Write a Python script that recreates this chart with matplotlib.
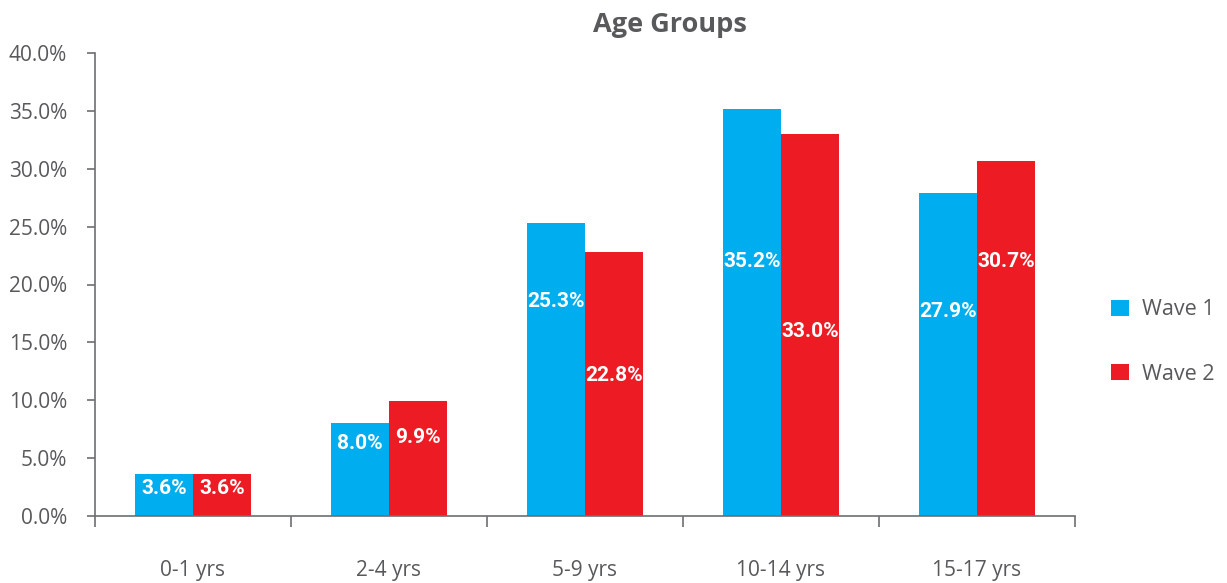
import numpy as np
import matplotlib.pyplot as plt
from matplotlib.ticker import FuncFormatter

# age groups and share of children per wave (in %)
groups = ['0-1 yrs', '2-4 yrs', '5-9 yrs', '10-14 yrs', '15-17 yrs']
wave1 = [3.6, 8.0, 25.3, 35.2, 27.9]
wave2 = [3.6, 9.9, 22.8, 33.0, 30.7]

# height where each value label sits
label_y1 = [2.4, 6.3, 18.5, 22.0, 17.7]
label_y2 = [2.4, 6.8, 12.1, 15.9, 22.0]

blauw = '#00aeef'
rood = '#ed1c24'
grijs = '#58595b'
lijn = '#6d6e71'

fig = plt.figure(figsize=(12.27, 5.83), dpi=100)
ax = fig.add_axes([95/1227, 1-516/583, (1075-95)/1227, (516-53)/583])

x = np.arange(len(groups))
w = 0.295
ax.bar(x - w, wave1, w, align='edge', color=blauw, label='Wave 1')
ax.bar(x, wave2, w, align='edge', color=rood, label='Wave 2')

# waarden in de balken
for i in range(len(groups)):
    ax.text(x[i] - w/2, label_y1[i], f'{wave1[i]:.1f}%', ha='center', va='center',
            color='white', fontsize=15, fontweight='bold', family='Roboto')
    ax.text(x[i] + w/2, label_y2[i], f'{wave2[i]:.1f}%', ha='center', va='center',
            color='white', fontsize=15, fontweight='bold', family='Roboto')

ax.set_ylim(0, 40)
ax.set_xlim(-0.5, len(groups) - 0.5)
ax.set_yticks(np.arange(0, 41, 5))
ax.yaxis.set_major_formatter(FuncFormatter(lambda v, p: f'{v:.1f}%'))

# streepjes tussen de groepen, labels in het midden
ax.set_xticks(np.arange(-0.5, len(groups), 1))
ax.set_xticklabels([])
ax.set_xticks(x, minor=True)
ax.set_xticklabels(groups, minor=True)
ax.tick_params(axis='x', which='major', length=8, width=1.2, color=lijn)
ax.tick_params(axis='x', which='minor', length=0, pad=32, labelsize=15, labelcolor=grijs)
ax.tick_params(axis='y', length=6, width=1.2, color=lijn, pad=14, labelsize=15, labelcolor=grijs)

for s in ['top', 'right']:
    ax.spines[s].set_visible(False)
for s in ['left', 'bottom']:
    ax.spines[s].set_color(lijn)
    ax.spines[s].set_linewidth(1.2)

for lbl in ax.get_yticklabels() + ax.get_xticklabels(minor=True):
    lbl.set_family('Open Sans')

fig.text(670/1227, 1-25/583, 'Age Groups', ha='center', va='center', fontsize=19.5,
         fontweight='bold', color=grijs, family='Open Sans')

leg = fig.legend(loc='center left', bbox_to_anchor=(1092/1227, 1-342/583), frameon=False,
                 handlelength=0.8, handleheight=0.8, labelspacing=2.0,
                 handletextpad=0.6, prop={'family': 'Open Sans', 'size': 15.5})
for t in leg.get_texts():
    t.set_color(grijs)

plt.savefig('out.png', dpi=100)
